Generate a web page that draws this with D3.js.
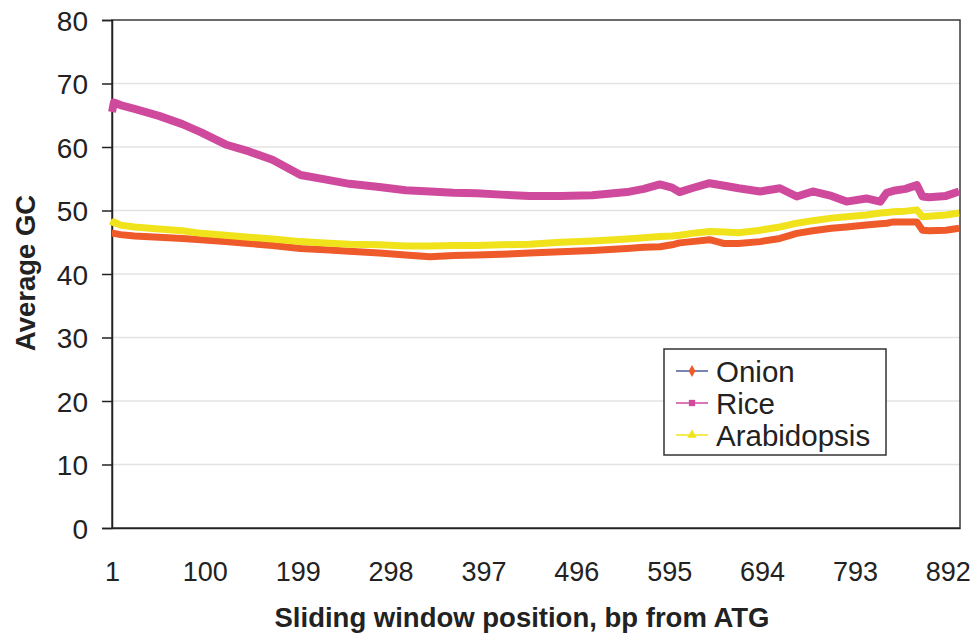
<!DOCTYPE html>
<html>
<head>
<meta charset="utf-8">
<script src="https://cdn.jsdelivr.net/npm/d3@7"></script>
<style>
  html, body { margin: 0; padding: 0; background: #ffffff; }
  svg { display: block; }
</style>
</head>
<body>
<svg id="chart" width="976" height="636"></svg>
<script>
// ---- data ----
const positions = [1,3,10,25,51,76,96,122,147,172,202,228,254,286,314,340,365,390,416,446,479,513,550,568,585,598,606,619,638,654,669,692,713,731,748,768,784,805,820,827,834,847,859,865,872,890,904];
const onion = [46.4,46.4,46.2,46.0,45.8,45.6,45.4,45.1,44.8,44.5,44.0,43.8,43.6,43.3,43.0,42.7,42.9,43.0,43.1,43.3,43.5,43.7,44.0,44.2,44.3,44.6,44.9,45.1,45.4,44.8,44.8,45.1,45.6,46.4,46.8,47.2,47.4,47.7,47.9,48.0,48.2,48.2,48.2,46.9,46.8,46.9,47.2];
const rice = [65.5,67.0,66.6,66.0,64.9,63.6,62.3,60.4,59.3,58.0,55.6,54.9,54.2,53.7,53.2,53.0,52.8,52.7,52.5,52.3,52.3,52.4,52.9,53.4,54.1,53.6,52.9,53.5,54.3,53.9,53.5,53.0,53.5,52.2,53.0,52.3,51.4,51.9,51.4,52.8,53.1,53.4,54.0,52.2,52.1,52.3,53.0];
const arabidopsis = [47.6,48.2,47.7,47.4,47.1,46.8,46.4,46.1,45.8,45.5,45.1,44.9,44.7,44.6,44.4,44.4,44.5,44.5,44.6,44.7,45.0,45.2,45.5,45.7,45.9,46.0,46.1,46.4,46.7,46.6,46.5,46.9,47.4,48.0,48.4,48.8,49.0,49.3,49.6,49.7,49.8,49.9,50.1,49.0,49.1,49.3,49.6];
const seriesNames = ["Onion", "Rice", "Arabidopsis"];
const seriesColors = ["#ef5a2a", "#cf4a9c", "#f0e31c"];
const legendLineColors = ["#4b5b99", "#cf4a9c", "#f0e31c"];
const xTicks = [1,100,199,298,397,496,595,694,793,892];
const yTicks = [0,10,20,30,40,50,60,70,80];
const xTitle = "Sliding window position, bp from ATG";
const yTitle = "Average GC";

// ---- layout ----
const L = 112, R = 960, T = 20, B = 528;
const svg = d3.select("#chart");
const x = d3.scaleLinear().domain([1, 905]).range([L, R]);
const y = d3.scaleLinear().domain([0, 80]).range([B, T]);
const font = "'Liberation Sans', Arial, sans-serif";

// gridlines
svg.append("g").selectAll("line").data(yTicks.filter(v => v > 0 && v < 80)).join("line")
  .attr("x1", L).attr("x2", R).attr("y1", d => y(d)).attr("y2", d => y(d))
  .attr("stroke", "#e3e3e3").attr("stroke-width", 1.5);

// frame
svg.append("rect").attr("x", L).attr("y", T).attr("width", R - L).attr("height", B - T)
  .attr("fill", "none").attr("stroke", "#3a3a3a").attr("stroke-width", 1.5);

// y axis
const yAxis = d3.axisLeft(y).tickValues(yTicks).tickSize(10).tickPadding(14).tickFormat(d3.format("d"));
const gy = svg.append("g").attr("transform", `translate(${L},0)`).call(yAxis);
gy.select(".domain").attr("stroke", "#222").attr("stroke-width", 1.5);
gy.selectAll(".tick line").attr("stroke", "#222").attr("stroke-width", 1.5);
gy.selectAll(".tick text").attr("font-family", font).attr("font-size", 28).attr("fill", "#222").attr("dy", "0.36em");

// x axis
const xAxis = d3.axisBottom(x).tickValues(xTicks).tickSize(0).tickPadding(34).tickFormat(d3.format("d"));
const gx = svg.append("g").attr("transform", `translate(0,${B})`).call(xAxis);
gx.select(".domain").attr("stroke", "#222").attr("stroke-width", 1.5);
gx.selectAll(".tick text").attr("font-family", font).attr("font-size", 27).attr("fill", "#222");

// titles
svg.append("text").attr("x", 522).attr("y", 627).attr("text-anchor", "middle")
  .attr("font-family", font).attr("font-weight", "bold").attr("font-size", 27.5).attr("fill", "#222").text(xTitle);
svg.append("text").attr("transform", "translate(35,273) rotate(-90)").attr("text-anchor", "middle")
  .attr("font-family", font).attr("font-weight", "bold").attr("font-size", 27.5).attr("fill", "#222").text(yTitle);

// lines
const allSeries = [onion, rice, arabidopsis];
const line = d3.line().x((d, i) => x(positions[i])).y(d => y(d));
const widths = [7, 8, 7];
allSeries.forEach((s, k) => {
  svg.append("path").datum(s).attr("d", line).attr("fill", "none")
    .attr("stroke", seriesColors[k]).attr("stroke-width", widths[k])
    .attr("stroke-linejoin", "round").attr("stroke-linecap", "butt");
});

// legend
const lg = svg.append("g");
lg.append("rect").attr("x", 664).attr("y", 349).attr("width", 222).attr("height", 106)
  .attr("fill", "#fff").attr("stroke", "#333").attr("stroke-width", 1.5);
seriesNames.forEach((name, k) => {
  const cy = 371 + k * 32;
  lg.append("line").attr("x1", 676).attr("x2", 708).attr("y1", cy).attr("y2", cy)
    .attr("stroke", legendLineColors[k]).attr("stroke-width", 1.5);
  const sym = [d3.symbolDiamond, d3.symbolSquare, d3.symbolTriangle][k];
  lg.append("path").attr("d", d3.symbol().type(sym).size(40)).attr("transform", `translate(692,${cy})`)
    .attr("fill", seriesColors[k]);
  lg.append("text").attr("x", 716).attr("y", cy).attr("dy", "0.36em")
    .attr("font-family", font).attr("font-size", 29.5).attr("fill", "#222").text(name);
});
</script>
</body>
</html>
